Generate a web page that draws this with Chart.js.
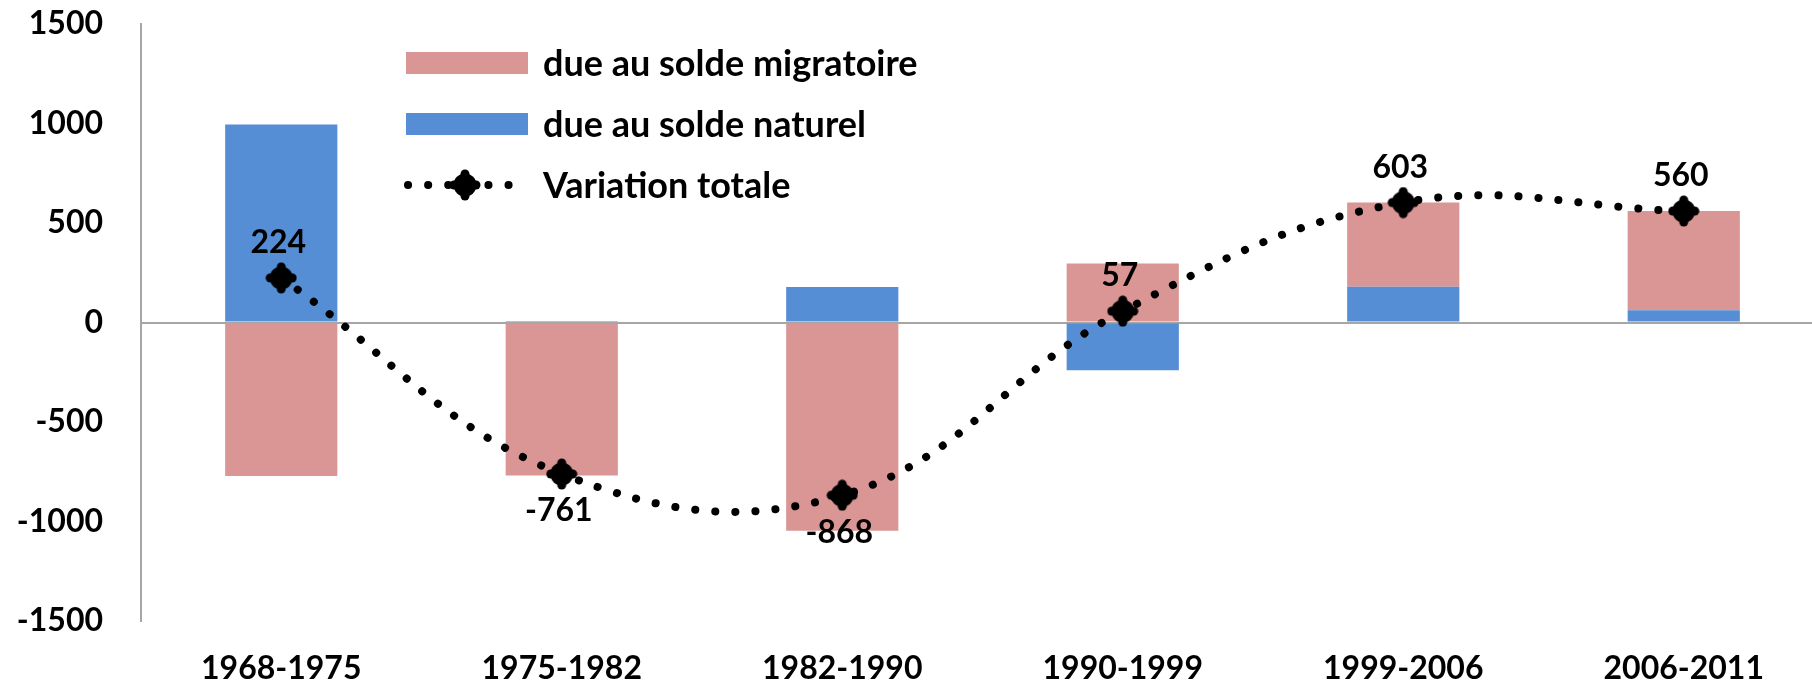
<!DOCTYPE html>
<html>
<head>
<meta charset="utf-8">
<script src="https://cdn.jsdelivr.net/npm/chart.js@4/dist/chart.umd.min.js"></script>
<style>
    html, body { margin: 0; padding: 0; background: #fff; overflow: hidden; }
    #wrap { position: relative; width: 1848px; height: 688px; }
</style>
</head>
<body>
<div id="wrap"><canvas id="variationChart"></canvas></div>
<script>
// données : variation de population par période
const periodes = ['1968-1975', '1975-1982', '1982-1990', '1990-1999', '1999-2006', '2006-2011'];
const soldeMigratoire = [-771, -769, -1046, 297, 423, 498];
const soldeNaturel = [995, 8, 178, -240, 180, 62];
const variationTotale = [224, -761, -868, 57, 603, 560];
const ticksY = [-1500, -1000, -500, 0, 500, 1000, 1500];

const roseMigr = '#D99694';
const bleuNat = '#558ED5';
const grisAxe = '#A6A6A6';
const police = 'Lato';

Chart.defaults.font.family = police;

// marqueur noir en forme de rouage
function makeMarker() {
    const c = document.createElement('canvas');
    c.width = 32;
    c.height = 32;
    const g = c.getContext('2d');
    g.fillStyle = '#000';
    g.beginPath();
    g.arc(16, 16, 11.5, 0, Math.PI * 2);
    g.fill();
    [[0, -11], [0, 11], [-11, 0], [11, 0]].forEach(function (d) {
        g.beginPath();
        g.arc(16 + d[0], 16 + d[1], 4.5, 0, Math.PI * 2);
        g.fill();
    });
    return c;
}
const marker = makeMarker();

// étiquettes de valeur au-dessus / au-dessous des points
const valeursPlugin = {
    id: 'valeurs',
    afterDatasetsDraw(chart) {
        const ctx = chart.ctx;
        const idx = chart.data.datasets.findIndex(d => d.type === 'line');
        const meta = chart.getDatasetMeta(idx);
        ctx.save();
        ctx.font = 'bold 32px ' + police;
        ctx.fillStyle = '#000';
        ctx.textAlign = 'center';
        ctx.textBaseline = 'middle';
        meta.data.forEach(function (pt, i) {
            const v = variationTotale[i];
            const dy = v < 0 ? 37 : -35;
            ctx.fillText(String(v), pt.x - 3, pt.y + dy);
        });
        ctx.restore();
    }
};

// légende en colonne dans la zone du graphique
const legendePlugin = {
    id: 'legende',
    afterDraw(chart) {
        const ctx = chart.ctx;
        const x0 = 406, x1 = 528, xt = 543;
        const rows = [63, 124, 185];
        ctx.save();
        ctx.font = 'bold 36px ' + police;
        ctx.textBaseline = 'middle';
        ctx.textAlign = 'left';
        chart.data.datasets.forEach(function (ds, i) {
            const y = rows[i];
            if (ds.type === 'line') {
                ctx.strokeStyle = '#000';
                ctx.lineWidth = 8;
                ctx.lineCap = 'round';
                ctx.setLineDash([0.1, 20]);
                ctx.beginPath();
                ctx.moveTo(x0 + 2, y);
                ctx.lineTo(x1 - 14, y);
                ctx.stroke();
                ctx.setLineDash([]);
                ctx.drawImage(marker, 465 - 16, y - 16);
            } else {
                ctx.fillStyle = ds.backgroundColor;
                ctx.fillRect(x0, y - 11, x1 - x0, 22);
            }
            ctx.fillStyle = '#000';
            ctx.fillText(ds.label, xt, y + 1);
        });
        ctx.restore();
    }
};

new Chart(document.getElementById('variationChart'), {
    data: {
        labels: periodes,
        datasets: [
            {
                type: 'bar',
                label: 'due au solde migratoire',
                data: soldeMigratoire,
                backgroundColor: roseMigr,
                stack: 'solde',
                order: 2,
                barPercentage: 0.4,
                categoryPercentage: 1
            },
            {
                type: 'bar',
                label: 'due au solde naturel',
                data: soldeNaturel,
                backgroundColor: bleuNat,
                stack: 'solde',
                order: 1,
                barPercentage: 0.4,
                categoryPercentage: 1
            },
            {
                type: 'line',
                label: 'Variation totale',
                data: variationTotale,
                stack: 'total',
                order: 0,
                borderColor: '#000',
                borderWidth: 8,
                borderDash: [0.1, 20],
                borderCapStyle: 'round',
                tension: 0.4,
                fill: false,
                pointStyle: marker,
                pointRadius: 16
            }
        ]
    },
    options: {
        responsive: true,
        maintainAspectRatio: false,
        animation: false,
        layout: { padding: { top: 23, left: 0, right: 0, bottom: 0 } },
        plugins: {
            legend: { display: false },
            tooltip: { enabled: false }
        },
        scales: {
            x: {
                stacked: true,
                offset: true,
                grid: { display: false, drawTicks: false },
                border: { display: false },
                ticks: {
                    color: '#000',
                    padding: 32,
                    font: { size: 32, weight: 'bold', lineHeight: 1 }
                },
                afterFit(scale) {
                    scale.height = 67;
                    scale.paddingLeft = 0;
                    scale.paddingRight = 0;
                }
            },
            y: {
                stacked: true,
                min: -1500,
                max: 1500,
                afterBuildTicks(scale) {
                    scale.ticks = ticksY.map(v => ({ value: v }));
                },
                grid: {
                    drawTicks: false,
                    lineWidth: 2,
                    color: (c) => (c.tick && c.tick.value === 0 ? grisAxe : 'rgba(0,0,0,0)')
                },
                border: { display: true, color: grisAxe, width: 2 },
                ticks: {
                    color: '#000',
                    padding: 38,
                    font: { size: 32, weight: 'bold' },
                    callback: (v) => String(v)
                },
                afterFit(scale) {
                    scale.width = 141;
                    scale.paddingTop = 0;
                    scale.paddingBottom = 0;
                }
            }
        }
    },
    plugins: [valeursPlugin, legendePlugin]
});
</script>
</body>
</html>
